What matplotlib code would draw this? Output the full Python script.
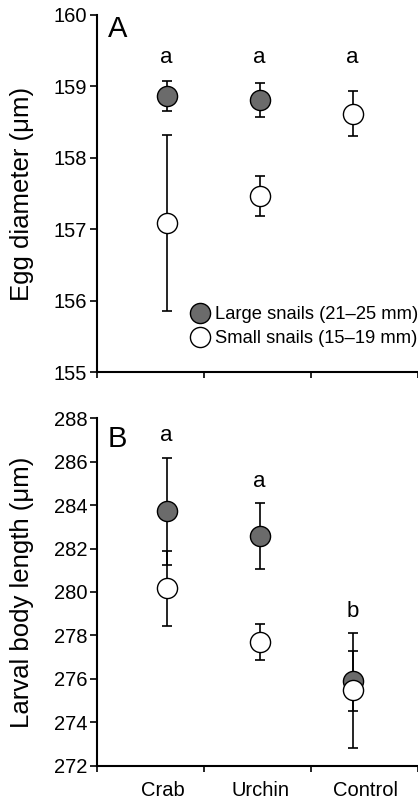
import numpy as np
import matplotlib.pyplot as plt

plt.rcParams['font.family'] = ['Liberation Sans', 'DejaVu Sans']

treatments = ['Crab', 'Urchin', 'Control']
letters_egg = ['a', 'a', 'a']
letters_larva = ['a', 'a', 'b']

# egg diameter (um): mean and SE
egg_large = [158.87, 158.81, np.nan]
egg_large_se = [0.21, 0.24, np.nan]
egg_small = [157.09, 157.46, 158.62]
egg_small_se = [1.23, 0.28, 0.31]

# larval body length (um): mean and SE
larva_large = [283.72, 282.58, 275.90]
larva_large_se = [2.47, 1.53, 1.37]
larva_small = [280.18, 277.68, 275.47]
larva_small_se = [1.73, 0.83, 2.64]

xpos = np.array([0.65, 1.52, 2.39])
label_pos = [0.62, 1.53, 2.51]

W, H = 418, 801
fig = plt.figure(figsize=(W / 100, H / 100), dpi=100)
axA = fig.add_axes([97 / W, 1 - 372 / H, 321 / W, 357 / H])
axB = fig.add_axes([97 / W, 1 - 765.7 / H, 321 / W, 347.4 / H])


def draw(ax, large, large_se, small, small_se):
    eb = dict(fmt='none', ecolor='black', elinewidth=1.2, capsize=3.6, capthick=1.2)
    ax.errorbar(xpos, large, yerr=large_se, zorder=2, **eb)
    ax.errorbar(xpos, small, yerr=small_se, zorder=2, **eb)
    ax.plot(xpos, large, 'o', ms=14.5, mfc='#6b6b6b', mec='black', mew=1.0,
            zorder=3, label='Large snails (21\u201325 mm)')
    ax.plot(xpos, small, 'o', ms=14.5, mfc='white', mec='black', mew=1.0,
            zorder=4, label='Small snails (15\u201319 mm)')

    for s in ['top', 'right']:
        ax.spines[s].set_visible(False)
    for s in ['left', 'bottom']:
        ax.spines[s].set_linewidth(1.5)
    ax.set_xlim(0, 3)
    ax.set_xticks([0, 1, 2, 3])
    ax.set_xticklabels([])
    ax.set_xticks(label_pos, minor=True)
    ax.tick_params(axis='x', which='major', direction='out', length=4.5, width=1.2)
    ax.tick_params(axis='x', which='minor', length=0)
    ax.tick_params(axis='y', direction='out', length=5, width=1.2, labelsize=14.5, pad=2)


draw(axA, egg_large, egg_large_se, egg_small, egg_small_se)
axA.set_ylim(155, 160)
axA.set_yticks(np.arange(155, 161, 1))
axA.set_ylabel('Egg diameter (\u03bcm)', fontsize=18.5, labelpad=14)
axA.text(0.034, 0.938, 'A', transform=axA.transAxes, fontsize=21)
for x, t in zip(xpos, letters_egg):
    axA.text(x, 159.4, t, ha='center', va='center', fontsize=16)
axA.legend(loc='lower right', bbox_to_anchor=(1.0, 0.07), frameon=False,
           fontsize=13.2, handlelength=0.9, handletextpad=0.35, labelspacing=0.38,
           borderaxespad=0, borderpad=0, numpoints=1)

draw(axB, larva_large, larva_large_se, larva_small, larva_small_se)
axB.set_ylim(272, 288)
axB.set_yticks(np.arange(272, 289, 2))
axB.set_ylabel('Larval body length (\u03bcm)', fontsize=18.5, labelpad=14)
axB.text(0.034, 0.917, 'B', transform=axB.transAxes, fontsize=21)
top_caps = np.nanmax([np.add(larva_large, larva_large_se),
                      np.add(larva_small, larva_small_se)], axis=0)
for x, yc, t in zip(xpos, top_caps, letters_larva):
    axB.text(x, yc + 1.0, t, ha='center', va='center', fontsize=16)
axB.set_xticklabels(treatments, minor=True, fontsize=14.5)
axB.tick_params(axis='x', which='minor', pad=11)

fig.savefig('out.png', dpi=100)
